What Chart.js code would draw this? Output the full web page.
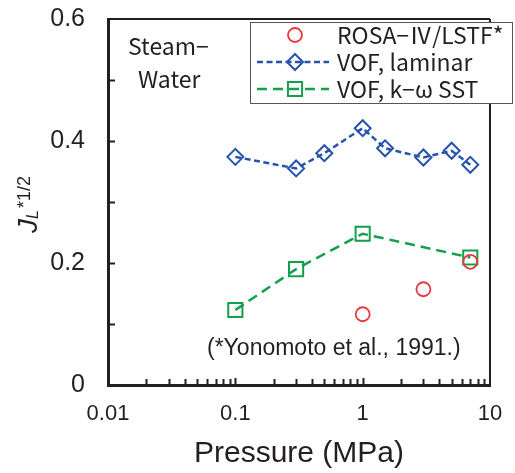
<!DOCTYPE html>
<html>
<head>
<meta charset="utf-8">
<script src="https://cdn.jsdelivr.net/npm/chart.js@4.4.0/dist/chart.umd.min.js"></script>
<style>
    html, body { margin: 0; padding: 0; background: #fff; }
    #wrap { width: 515px; height: 473px; }
</style>
</head>
<body>
<div id="wrap"><canvas id="chartPressure"></canvas></div>
<script>
// ROSA-IV/LSTF experiment
const pressureExp = [1, 3, 7];
const jExp = [0.116, 0.157, 0.202];

// VOF, laminar
const pressureLam = [0.1, 0.3, 0.5, 1, 1.5, 3, 5, 7];
const jLam = [0.374, 0.355, 0.380, 0.421, 0.388, 0.373, 0.384, 0.361];

// VOF, k-omega SST
const pressureSst = [0.1, 0.3, 1, 7];
const jSst = [0.123, 0.190, 0.248, 0.209];

const seriesNames = ['ROSA−Ⅳ/LSTF*', 'VOF, laminar', 'VOF, k−ω SST'];
const yTicks = [0, 0.2, 0.4, 0.6];
const xDecades = [0.01, 0.1, 1, 10];

const ink = '#231f20';
const red = '#e8383d';
const blue = '#2554ad';
const green = '#12a04c';

function toPoints(xs, ys) {
    return xs.map((x, i) => ({ x: x, y: ys[i] }));
}

Chart.defaults.font.family = '"Liberation Sans", Arial, sans-serif';
Chart.defaults.color = ink;

let extras = {
    id: 'extras',
    afterDraw(chart) {
        const ctx = chart.ctx;
        const area = chart.chartArea;
        const xs = chart.scales.x;
        const ys = chart.scales.y;
        ctx.save();
        ctx.strokeStyle = ink;

        // top and right frame
        ctx.lineWidth = 2;
        ctx.beginPath();
        ctx.moveTo(area.left, area.top);
        ctx.lineTo(area.right, area.top);
        ctx.moveTo(area.right, area.top);
        ctx.lineTo(area.right, area.bottom);
        ctx.stroke();

        // inward ticks
        ctx.lineWidth = 2;
        ctx.beginPath();
        for (let v = 0.1; v < 0.6; v += 0.1) {
            let py = Math.round(ys.getPixelForValue(v)) + 0.5;
            ctx.moveTo(area.left, py);
            ctx.lineTo(area.left + 7, py);
        }
        for (let d = 0; d < 3; d++) {
            for (let k = 1; k <= 9; k++) {
                let v = xDecades[d] * k;
                if (d == 0 && k == 1) continue;
                let px = Math.round(xs.getPixelForValue(v)) + 0.5;
                ctx.moveTo(px, area.bottom);
                ctx.lineTo(px, area.bottom - (k == 1 ? 7 : 6));
            }
        }
        ctx.stroke();

        // legend box
        const lx = 250, ly = 22, lw = 263, lh = 81;
        ctx.fillStyle = '#fff';
        ctx.fillRect(lx, ly, lw, lh);
        ctx.lineWidth = 1;
        ctx.strokeStyle = '#555';
        ctx.strokeRect(lx + 0.5, ly + 0.5, lw - 1, lh);

        const rows = [35, 62, 89];
        const sets = chart.data.datasets;
        for (let i = 0; i < 3; i++) {
            const ds = sets[i];
            ctx.strokeStyle = ds.borderColor;
            if (ds.showLine) {
                ctx.lineWidth = ds.borderWidth;
                ctx.setLineDash(ds.borderDash);
                ctx.beginPath();
                ctx.moveTo(257, rows[i]);
                ctx.lineTo(329, rows[i]);
                ctx.stroke();
                ctx.setLineDash([]);
            }
            ctx.lineWidth = ds.pointBorderWidth;
            ctx.fillStyle = 'rgba(0,0,0,0)';
            Chart.helpers.drawPoint(ctx, {
                pointStyle: ds.pointStyle,
                radius: ds.pointRadius,
                borderWidth: ds.pointBorderWidth,
                rotation: 0
            }, 295, rows[i]);

            ctx.fillStyle = ink;
            ctx.font = '23px "Noto Sans CJK JP"';
            ctx.textBaseline = 'alphabetic';
            ctx.fillText(seriesNames[i], 337, rows[i] + 9);
        }

        // notes
        ctx.fillStyle = ink;
        ctx.font = '23px "Noto Sans CJK JP"';
        ctx.fillText('Steam−', 128, 55);
        ctx.fillText('Water', 138, 88);
        ctx.font = '23px "Liberation Sans"';
        ctx.fillText('(*Yonomoto et al., 1991.)', 207, 355);

        // y axis title  J_L^{*1/2}
        ctx.translate(37, 233);
        ctx.rotate(-Math.PI / 2);
        ctx.font = 'italic 28px "Liberation Sans"';
        ctx.fillText('J', 0, 0);
        ctx.font = 'italic 16px "Liberation Sans"';
        ctx.fillText('L', 14, 1);
        ctx.font = '18px "Liberation Sans"';
        ctx.fillText('*1/2', 25, -7);

        ctx.restore();
    }
};

let config = {
    type: 'scatter',
    data: {
        datasets: [{
            label: seriesNames[0],
            data: toPoints(pressureExp, jExp),
            showLine: false,
            borderColor: red,
            backgroundColor: 'transparent',
            pointStyle: 'circle',
            pointRadius: 7,
            pointBorderWidth: 1.8,
            pointBorderColor: red,
            pointBackgroundColor: 'transparent'
        }, {
            label: seriesNames[1],
            data: toPoints(pressureLam, jLam),
            showLine: true,
            borderColor: blue,
            borderWidth: 2.5,
            borderDash: [6, 3.5],
            backgroundColor: 'transparent',
            pointStyle: 'rectRot',
            pointRadius: 8,
            pointBorderWidth: 2,
            pointBorderColor: blue,
            pointBackgroundColor: 'transparent'
        }, {
            label: seriesNames[2],
            data: toPoints(pressureSst, jSst),
            showLine: true,
            borderColor: green,
            borderWidth: 2.5,
            borderDash: [10, 6],
            backgroundColor: 'transparent',
            pointStyle: 'rect',
            pointRadius: 10,
            pointBorderWidth: 2,
            pointBorderColor: green,
            pointBackgroundColor: 'transparent'
        }]
    },
    options: {
        responsive: true,
        maintainAspectRatio: false,
        animation: false,
        events: [],
        layout: {
            padding: { top: 19, right: 25, left: 0, bottom: 0 }
        },
        plugins: {
            legend: { display: false },
            tooltip: { enabled: false }
        },
        scales: {
            x: {
                type: 'logarithmic',
                min: 0.01,
                max: 10,
                afterFit: (scale) => {
                    scale.height = 88;
                    scale.paddingLeft = 0;
                    scale.paddingRight = 0;
                },
                grid: { display: false, drawTicks: false },
                border: { display: true, width: 3, color: ink },
                ticks: {
                    autoSkip: false,
                    maxRotation: 0,
                    padding: 16,
                    font: { size: 22 },
                    callback: (value) => {
                        let l = Math.log10(value);
                        return Math.abs(l - Math.round(l)) < 1e-9 ? String(value) : '';
                    }
                },
                title: {
                    display: true,
                    text: 'Pressure (MPa)',
                    font: { size: 30 },
                    padding: { top: 0, bottom: 1 }
                }
            },
            y: {
                min: 0,
                max: 0.6,
                afterFit: (scale) => {
                    scale.width = 108;
                    scale.paddingTop = 0;
                    scale.paddingBottom = 0;
                },
                grid: { display: false, drawTicks: false },
                border: { display: true, width: 3, color: ink },
                ticks: {
                    stepSize: 0.1,
                    padding: 23,
                    font: { size: 25 },
                    callback: (value) => {
                        let hit = yTicks.find(t => Math.abs(t - value) < 1e-9);
                        return hit === undefined ? '' : String(hit);
                    }
                }
            }
        }
    },
    plugins: [extras]
};

let chartPressure = new Chart(document.querySelector('#chartPressure').getContext('2d'), config);
</script>
</body>
</html>
